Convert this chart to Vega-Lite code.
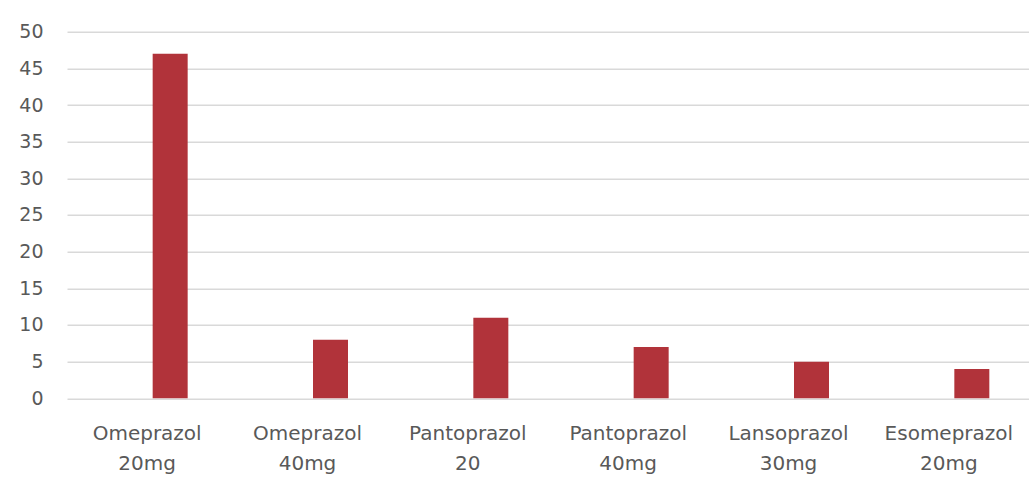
{
  "$schema": "https://vega.github.io/schema/vega-lite/v6.json",
  "autosize": "none",
  "width": 962,
  "height": 366.6,
  "padding": {"left": 67, "top": 31.7, "right": 0, "bottom": 82},
  "background": "white",
  "data": {
    "values": [
      {"drug": "Omeprazol 20mg", "count": 47},
      {"drug": "Omeprazol 40mg", "count": 8},
      {"drug": "Pantoprazol 20", "count": 11},
      {"drug": "Pantoprazol 40mg", "count": 7},
      {"drug": "Lansoprazol 30mg", "count": 5},
      {"drug": "Esomeprazol 20mg", "count": 4}
    ]
  },
  "mark": {"type": "bar", "width": 35, "xOffset": 23, "color": "#B1333A"},
  "encoding": {
    "x": {
      "field": "drug",
      "type": "nominal",
      "sort": null,
      "scale": {"paddingInner": 0, "paddingOuter": 0},
      "axis": {
        "title": null,
        "labelAngle": 0,
        "domain": false,
        "ticks": false,
        "labelExpr": "split(datum.label, ' ')",
        "labelFont": "DejaVu Sans",
        "labelFontSize": 20,
        "labelColor": "#595959",
        "labelLineHeight": 30,
        "labelPadding": 25,
        "labelBaseline": "top"
      }
    },
    "y": {
      "field": "count",
      "type": "quantitative",
      "scale": {"domain": [0, 50], "nice": false},
      "axis": {
        "title": null,
        "values": [0, 5, 10, 15, 20, 25, 30, 35, 40, 45, 50],
        "domain": false,
        "ticks": false,
        "labelFont": "DejaVu Sans",
        "labelFontSize": 19,
        "labelColor": "#595959",
        "labelPadding": 24,
        "gridColor": "#D9D9D9",
        "gridWidth": 1.5
      }
    }
  },
  "config": {"view": {"stroke": null}}
}
